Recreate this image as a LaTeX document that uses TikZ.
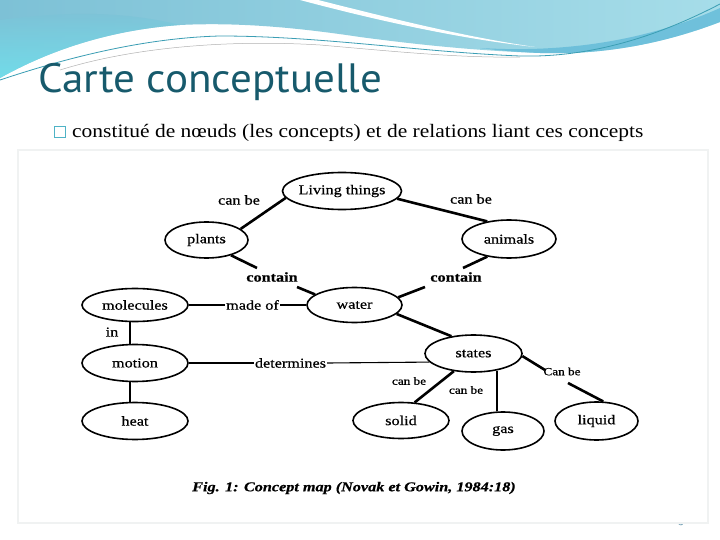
\documentclass[tikz,border=0pt]{standalone}
\usepackage{fontspec}
\setmainfont{Liberation Serif}
\newfontfamily\diagfont[FakeStretch=1.2,FakeBold=0.6]{Liberation Serif}
\newfontfamily\bulletfont[FakeStretch=1.13]{Liberation Serif}
\newfontfamily\titlefont[FakeStretch=1.05]{PT Sans}
\usetikzlibrary{shapes.geometric}
\definecolor{titlecol}{HTML}{175A6C}
\definecolor{boxcol}{HTML}{4FB3C6}
\definecolor{bandL}{HTML}{7DC1D6}
\definecolor{bandR}{HTML}{A6DDE9}
\definecolor{bandDark}{HTML}{62BAD8}
\definecolor{cyanL}{HTML}{6FE3EE}
\definecolor{lineTeal}{HTML}{3B9EB4}
\definecolor{frameGray}{HTML}{F0F2F2}
\definecolor{pagenum}{HTML}{5A8FA8}
\tikzset{
  concept/.style={ellipse, draw, line width=1.6pt, inner xsep=-14pt, inner ysep=0pt,
    font=\diagfont\fontsize{13.5}{16}\selectfont},
  lbl/.style={inner sep=1pt, font=\diagfont\fontsize{13.5}{16}\selectfont},
  smalllbl/.style={inner sep=1pt, font=\diagfont\fontsize{11}{13}\selectfont},
  boldlbl/.style={inner sep=1pt, font=\diagfont\bfseries\fontsize{13.5}{16}\selectfont},
  thickedge/.style={line width=2.6pt},
  thinedge/.style={line width=1.1pt}
}
\begin{document}
\begin{tikzpicture}[x=1pt,y=-1pt]
\useasboundingbox (0,0) rectangle (720,540);
\fill[white] (0,0) rectangle (720,540);
% header band
\shade[left color=bandL, right color=bandR]
  (0,0) -- (720,0) -- (720,22) .. controls (660,45) and (600,55) .. (540,53)
  .. controls (480,51) and (420,45) .. (360,37) .. controls (300,28) and (240,22) .. (180,25)
  .. controls (110,30) and (50,50) .. (0,78) -- cycle;
\shade[top color=bandL, bottom color=cyanL, opacity=0.8]
  (0,20) .. controls (60,12) and (120,10) .. (180,25) .. controls (110,30) and (50,50) .. (0,78) -- cycle;
\fill[bandDark, opacity=0.8] (480,48) .. controls (580,54) and (660,35) .. (720,8) -- (720,22)
  .. controls (660,45) and (600,55) .. (540,53) .. controls (515,52) and (495,50) .. (480,48) -- cycle;
\fill[white] (318,0) .. controls (390,18) and (460,36) .. (535,47)
  .. controls (470,40) and (390,24) .. (300,0) -- cycle;
\draw[lineTeal, line width=0.8pt] (0,80) .. controls (60,60) and (140,38) .. (220,36)
  .. controls (320,36) and (420,52) .. (520,56) .. controls (600,58) and (670,30) .. (720,4);
\draw[gray!60, line width=0.5pt] (60,70) .. controls (140,45) and (240,40) .. (320,45)
  .. controls (400,52) and (460,58) .. (520,57);
% title and bullet
\node[anchor=base west, inner sep=0pt, text=titlecol, font=\titlefont\fontsize{41}{48}\selectfont]
  (title) at (38,93) {Carte conceptuelle};
\node[draw=boxcol, line width=1pt, minimum size=11pt, inner sep=0pt] (box) at (60,132) {};
\node[anchor=base west, inner sep=0pt, font=\bulletfont\fontsize{19}{23}\selectfont]
  (bullet) at (72,138) {constitué de nœuds (les concepts) et de relations liant ces concepts};
% page number (mostly hidden)
\node[text=pagenum, font=\sffamily\fontsize{12}{14}\selectfont, inner sep=0pt] (pnum) at (681,522) {3};
% figure area
\fill[white] (18,150) rectangle (708,523);
\draw[frameGray, line width=1.5pt] (18,150) rectangle (708,523);
% concepts
\node[concept, minimum width=119pt, minimum height=37pt] (living) at (342,191) {Living things};
\node[concept, minimum width=83pt, minimum height=36pt] (plants) at (206.5,240) {plants};
\node[concept, minimum width=94pt, minimum height=38pt] (animals) at (509,239) {animals};
\node[concept, minimum width=106pt, minimum height=33pt] (molecules) at (135,305) {molecules};
\node[concept, minimum width=95pt, minimum height=35pt] (water) at (354.5,305) {water};
\node[concept, minimum width=106pt, minimum height=37pt] (motion) at (135,363) {motion};
\node[concept, minimum width=106pt, minimum height=37pt] (heat) at (135,421) {heat};
\node[concept, minimum width=97pt, minimum height=37pt] (states) at (473.5,353.5) {states};
\node[concept, minimum width=96pt, minimum height=36pt] (solid) at (401,420.5) {solid};
\node[concept, minimum width=82pt, minimum height=38pt] (gas) at (503,431) {gas};
\node[concept, minimum width=83pt, minimum height=38pt] (liquid) at (596.5,421) {liquid};
% linking words
\node[lbl] (canbe1) at (239,200) {can be};
\node[lbl] (canbe2) at (471,199) {can be};
\node[boldlbl] (contain1) at (272,277) {contain};
\node[boldlbl] (contain2) at (456,277) {contain};
\node[lbl] (madeof) at (252.5,305) {made of};
\node[lbl] (in) at (112,332) {in};
\node[lbl] (determines) at (290.5,363) {determines};
\node[smalllbl] (canbe3) at (409,381) {can be};
\node[smalllbl] (canbe4) at (466,390) {can be};
\node[smalllbl] (canbe5) at (562,371.5) {Can be};
\node[inner sep=0pt, font=\diagfont\bfseries\itshape\fontsize{13.5}{16}\selectfont]
  (caption) at (354,488) {Fig. 1: Concept map (Novak et Gowin, 1984:18)};
% connectors
\draw[thickedge] (living.187) -- (plants.18);
\draw[thickedge] (living.352) -- (animals.141);
\draw[thickedge] (plants.328) -- ([xshift=-15pt,yshift=9pt]contain1.center);
\draw[thickedge] ([xshift=25pt,yshift=-10pt]contain1.center) -- (water.165);
\draw[thickedge] (animals.219) -- ([xshift=7pt,yshift=9pt]contain2.center);
\draw[thickedge] ([xshift=-31pt,yshift=-10pt]contain2.center) -- (water.10);
\draw[thickedge] (water.348) -- (states.142);
\draw[thickedge] (states.222) -- (solid.53);
\draw[thickedge] ([xshift=23.5pt,yshift=2.3pt]states.south) -- ([xshift=-6pt]gas.north);
\draw[thickedge] (states.357) -- ([xshift=-17pt,yshift=1.5pt]canbe5.center);
\draw[thickedge] ([xshift=6pt,yshift=-11.5pt]canbe5.center) -- (liquid.71);
\draw[thickedge] ([xshift=-5pt]molecules.south) -- ([xshift=-5pt]motion.north);
\draw[thickedge] ([xshift=-5pt]motion.south) -- ([xshift=-5pt]heat.north);
\draw[thinedge] (molecules.east) -- (madeof.west);
\draw[thinedge] (madeof.east) -- (water.west);
\draw[thinedge] (motion.east) -- (determines.west);
\draw[thinedge] (determines.east) -- (states.191);
\end{tikzpicture}
\end{document}
